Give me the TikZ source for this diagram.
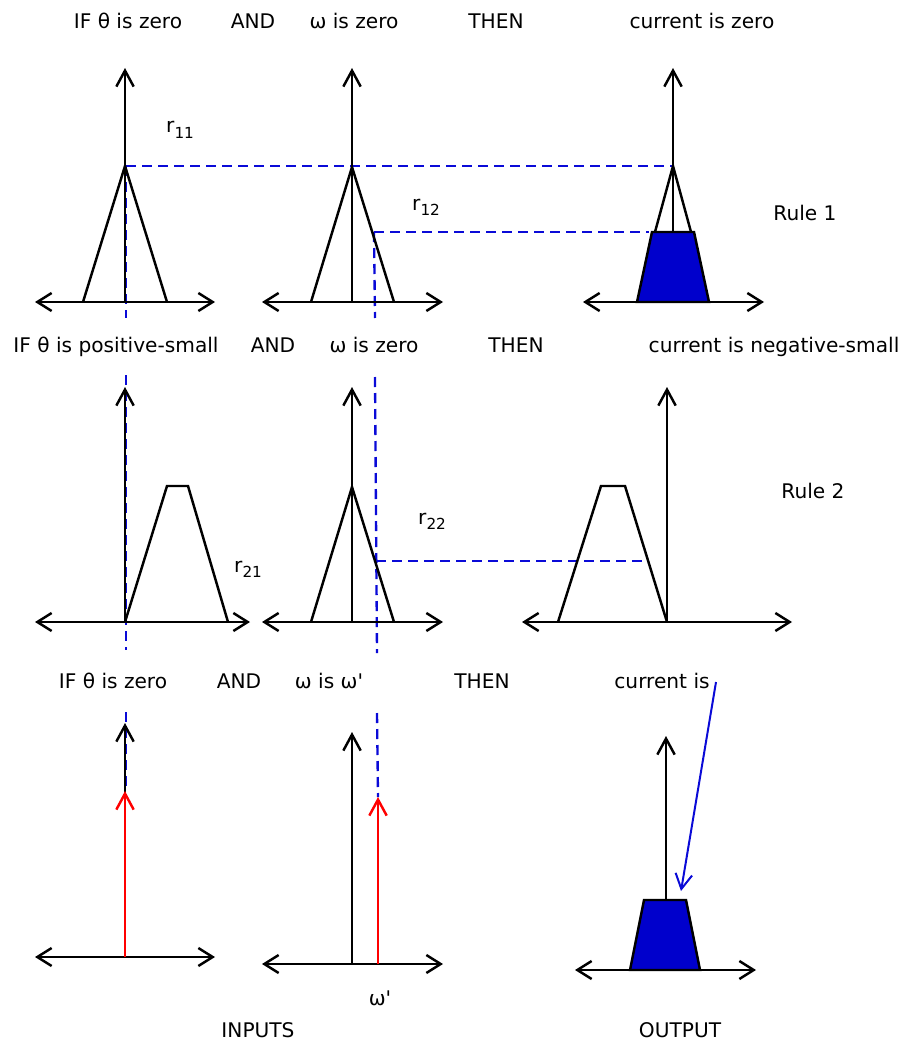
\documentclass[tikz,border=0pt]{standalone}
\usepackage{fontspec}
\setmainfont{DejaVu Sans}[Ligatures=TeXOff]
\usetikzlibrary{arrows.meta}
\definecolor{fillblue}{RGB}{0,0,204}
\definecolor{dashblue}{RGB}{10,10,215}
\newcommand{\rsub}[1]{r\raisebox{-0.28em}{\fontsize{13}{13}\selectfont #1}}
\begin{document}
\begin{tikzpicture}[x=0.03cm,y=-0.03cm,
  axline/.style={line width=2.1pt,black},
  haxis/.style={axline,{Straight Barb[length=0.43cm,width=0.54cm]}-{Straight Barb[length=0.43cm,width=0.54cm]}},
  vaxis/.style={axline,-{Straight Barb[length=0.48cm,width=0.52cm]}},
  inarrow/.style={line width=2.1pt,red,-{Straight Barb[length=0.48cm,width=0.52cm]}},
  mf/.style={line width=2.1pt,black,line join=miter},
  outfill/.style={mf,fill=fillblue},
  guide/.style={line width=2pt,dashblue,dash pattern=on 0.3cm off 0.18cm},
  pointer/.style={line width=1.7pt,dashblue,-{Straight Barb[length=0.45cm,width=0.5cm]}},
  lbl/.style={inner sep=0pt,anchor=base,font=\fontsize{17.2}{20}\selectfont},
  rl/.style={inner sep=0pt,anchor=base west,font=\fontsize{17.2}{20}\selectfont}]
\useasboundingbox (0,0) rectangle (902,1041);

% ---------- guide lines (under the plots) ----------
\coordinate (t1) at (126,166);
\coordinate (w1) at (374,232);
\draw[guide] (t1) -- (126,318);
\draw[guide] (126,375) -- (126,650);
\draw[guide] (126,712) -- (126,790);
\draw[guide] (w1) -- (375,318);
\draw[guide] (375,377) -- (377,653);
\draw[guide] (377,713) -- (378,797);
\draw[guide] (126,166) -- (673,166);
\draw[guide] (w1) -- (649,232);
\draw[guide] (376,561) -- (648,561);

% ---------- Rule 1 ----------
\node[lbl] (h11) at (128,29) {IF θ is zero};
\node[lbl] (h12) at (253,29) {AND};
\node[lbl] (h13) at (354,29) {ω is zero};
\node[lbl] (h14) at (496,29) {THEN};
\node[lbl] (h15) at (702,29) {current is zero};
\node[lbl] (rule1) at (805,220) {Rule 1};
\node[rl] (r11) at (166,133) {\rsub{11}};
\node[rl] (r12) at (412,210) {\rsub{12}};

\draw[haxis] (35,302) -- (215,302);
\draw[vaxis] (125,302) -- (125,68);
\draw[mf] (83,302) -- (125,166) -- (167,302);

\draw[haxis] (262,302) -- (443,302);
\draw[vaxis] (352,302) -- (352,68);
\draw[mf] (311,302) -- (352,167) -- (394,302);

\draw[haxis] (583,302) -- (764,302);
\draw[vaxis] (673,302) -- (673,68);
\draw[mf] (655,232) -- (673,166) -- (691,232);
\draw[outfill] (637,302) -- (652,232) -- (694,232) -- (709,302) -- cycle;

% ---------- Rule 2 ----------
\node[lbl] (h21) at (116,352) {IF θ is positive-small};
\node[lbl] (h22) at (273,352) {AND};
\node[lbl] (h23) at (374,352) {ω is zero};
\node[lbl] (h24) at (516,352) {THEN};
\node[lbl] (h25) at (774,352) {current is negative-small};
\node[lbl] (rule2) at (813,498) {Rule 2};
\node[rl] (r21) at (234,572) {\rsub{21}};
\node[rl] (r22) at (418,524) {\rsub{22}};

\draw[haxis] (35,622) -- (250,622);
\draw[vaxis] (125,622) -- (125,387);
\draw[mf] (125,622) -- (167,486) -- (188,486) -- (228,622);

\draw[haxis] (262,622) -- (443,622);
\draw[vaxis] (352,622) -- (352,387);
\draw[mf] (311,622) -- (352,487) -- (394,622);

\draw[haxis] (522,622) -- (792,622);
\draw[vaxis] (667,622) -- (667,387);
\draw[mf] (558,622) -- (601,486) -- (625,486) -- (667,622);

% ---------- Inputs / output ----------
\node[lbl] (h31) at (113,688) {IF θ is zero};
\node[lbl] (h32) at (239,688) {AND};
\node[lbl] (h33) at (329,688) {ω is ω'};
\node[lbl] (h34) at (482,688) {THEN};
\node[lbl] (h35) at (662,688) {current is};
\node[lbl] (wp) at (380,1005) {ω'};
\node[lbl] (inputs) at (258,1037) {INPUTS};
\node[lbl] (output) at (680,1037) {OUTPUT};

\draw[haxis] (35,957) -- (215,957);
\draw[vaxis] (125,957) -- (125,723);
\draw[inarrow] (125,957) -- (125,791);

\draw[haxis] (262,964) -- (443,964);
\draw[vaxis] (352,964) -- (352,732);
\draw[inarrow] (378,964) -- (378,797);

\draw[haxis] (575,970) -- (756,970);
\draw[vaxis] (666,970) -- (666,736);
\draw[outfill] (630,970) -- (644,900) -- (686,900) -- (700,970) -- cycle;
\coordinate (res) at (681,891);
\draw[pointer] (716,682) -- (res);
\end{tikzpicture}
\end{document}
